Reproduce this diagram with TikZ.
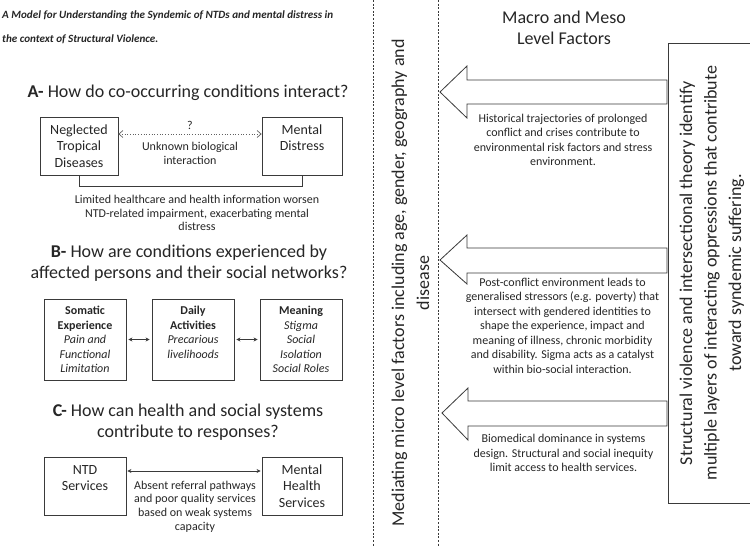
\documentclass[tikz,border=0pt]{standalone}
\usepackage{fontspec}
\setmainfont{Carlito}
\usetikzlibrary{arrows.meta}
\definecolor{ink}{HTML}{262626}
\definecolor{edge}{HTML}{3A3A3A}
\begin{document}
\begin{tikzpicture}[x=1pt,y=-1pt,
  every node/.style={text=ink, inner sep=0pt},
  titletext/.style={anchor=north west, align=left, font=\fontsize{11.1}{23.5}\selectfont\bfseries\itshape},
  headtext/.style={align=center, font=\fontsize{18}{21}\selectfont},
  bigbox/.style={draw=edge, line width=0.8pt, align=center, minimum height=58pt, font=\fontsize{14}{16.5}\selectfont},
  midbox/.style={draw=edge, line width=0.8pt, align=center, minimum width=82pt, minimum height=81pt, font=\fontsize{12}{14.6}\selectfont},
  smalltext/.style={align=center, font=\fontsize{12}{13.8}\selectfont},
  arrowtext/.style={align=center, font=\fontsize{12}{14.5}\selectfont},
  rottext/.style={align=center, rotate=90, font=\fontsize{18}{25}\selectfont},
  dashline/.style={draw=edge, line width=0.6pt, dash pattern=on 2pt off 1.6pt},
  blockarrow/.style={draw=edge, line width=0.8pt, line join=miter, fill=white},
  twoway/.style={draw=edge, line width=0.7pt, {Stealth[length=4pt,width=4pt]}-{Stealth[length=4pt,width=4pt]}},
  dotway/.style={draw=edge!80, line width=0.7pt, dotted, {Straight Barb[length=4pt,width=7pt]}-{Straight Barb[length=4pt,width=7pt]}},
]
\useasboundingbox (0,0) rectangle (750,547);
\fill[white] (0,0) rectangle (750,547);

% title
\node[titletext] (title) at (2,11) {A Model for Understanding the Syndemic of NTDs and mental distress in\\the context of Structural Violence.};

% ---------- A
\node[headtext] (ha) at (188,93) {\textbf{A-} How do co-occurring conditions interact?};
\node[bigbox, minimum width=78pt] (ntd) at (79,146) {Neglected\\Tropical\\Diseases};
\node[bigbox, minimum width=80pt] (md) at (302,146) {Mental\\Distress\\~};
\draw[dotway] ([yshift=12pt]ntd.east) -- ([yshift=12pt]md.west);
\node[smalltext] (q) at (190,125) {?};
\node[smalltext] (ubi) at (190,153.5) {Unknown biological\\interaction};
\draw[draw=edge, line width=0.8pt] (ntd.south) -- ++(0,11) -| (md.south);
\node[smalltext] (lim) at (197,213) {Limited healthcare and health information worsen\\NTD-related impairment, exacerbating mental\\distress};

% ---------- B
\node[headtext] (hb) at (189,263.5) {\textbf{B-} How are conditions experienced by\\affected persons and their social networks?};
\node[midbox] (b1) at (85,339.5) {\textbf{Somatic}\\\textbf{Experience}\\\textit{Pain and}\\\textit{Functional}\\\textit{Limitation}};
\node[midbox] (b2) at (193,339.5) {\textbf{Daily}\\\textbf{Activities}\\\textit{Precarious}\\\textit{livelihoods}\\~};
\node[midbox] (b3) at (301,339.5) {\textbf{Meaning}\\\textit{Stigma}\\\textit{Social}\\\textit{Isolation}\\\textit{Social Roles}};
\draw[twoway, shorten <=2pt, shorten >=2pt] (b1.east) -- (b2.west);
\draw[twoway, shorten <=2pt, shorten >=2pt] (b2.east) -- (b3.west);

% ---------- C
\node[headtext] (hc) at (188,422.5) {\textbf{C-} How can health and social systems\\contribute to responses?};
\node[bigbox, minimum width=82pt] (ns) at (85,486) {NTD\\Services\\~};
\node[bigbox, minimum width=80pt] (mhs) at (302,486) {Mental\\Health\\Services};
\draw[twoway, shorten <=1pt, shorten >=1pt] ([yshift=15pt]ns.east) -- ([yshift=15pt]mhs.west);
\node[smalltext] (arp) at (195,506.5) {Absent referral pathways\\and poor quality services\\based on weak systems\\capacity};

% ---------- dashed band
\draw[dashline] (373,0) -- (373,547);
\draw[dashline] (438,0) -- (438,547);
\node[rottext] (med) at (410.5,283) {Mediating micro level factors including age, gender, geography and\\disease};

% ---------- right side
\node[headtext] (macro) at (564,28) {Macro and Meso\\Level Factors};
\draw[blockarrow] (667,80) -- (467,80) -- (467,66) -- (440,92) -- (467,118) -- (467,104) -- (667,104) -- cycle;
\draw[blockarrow] (667,248) -- (467,248) -- (467,235) -- (440,260) -- (467,284) -- (467,273) -- (667,273) -- cycle;
\draw[blockarrow] (667,401) -- (468,401) -- (468,388) -- (442,413) -- (468,440) -- (468,426) -- (667,426) -- cycle;

\node[arrowtext] (t1) at (563,140) {Historical trajectories of prolonged\\conflict and crises contribute to\\environmental risk factors and stress\\environment.};
\node[arrowtext] (t2) at (562.5,325.5) {Post-conflict environment leads to\\generalised stressors (e.g. poverty) that\\intersect with gendered identities to\\shape the experience, impact and\\meaning of illness, chronic morbidity\\and disability. Sigma acts as a catalyst\\within bio-social interaction.};
\node[arrowtext] (t3) at (563.5,453) {Biomedical dominance in systems\\design. Structural and social inequity\\limit access to health services.};

\draw[draw=edge, line width=0.8pt] (668,43) rectangle (752,503);
\node[rottext, font=\fontsize{18}{24.5}\selectfont] (sv) at (712,273) {Structural violence and intersectional theory identify\\multiple layers of interacting oppressions that contribute\\toward syndemic suffering.};
\end{tikzpicture}
\end{document}
